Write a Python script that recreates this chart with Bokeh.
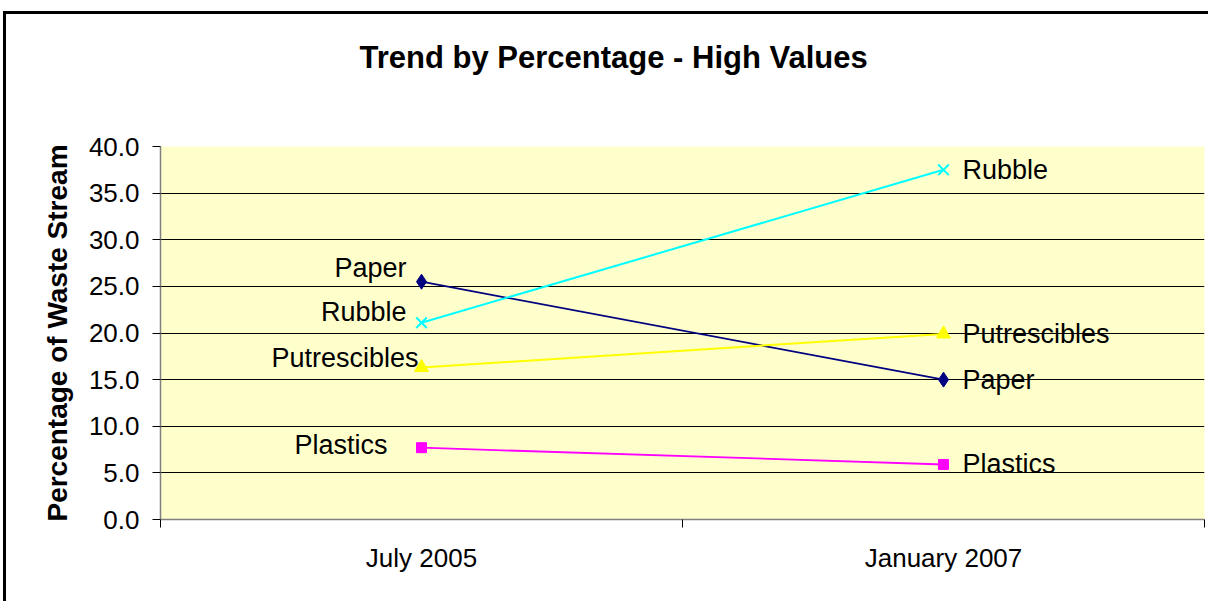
from bokeh.plotting import figure
from bokeh.models import FixedTicker, Range1d, NumeralTickFormatter, InlineStyleSheet
from bokeh.core.properties import value
from bokeh.embed import file_html
from bokeh.resources import INLINE

# ---- data ----
categories = ["July 2005", "January 2007"]
series_names = ["Paper", "Rubble", "Putrescibles", "Plastics"]
paper = [25.5, 15.0]
rubble = [21.1, 37.5]
putrescibles = [16.3, 19.9]
plastics = [7.7, 5.9]
y_ticks = [0, 5, 10, 15, 20, 25, 30, 35, 40]
title_text = "Trend by Percentage - High Values"
y_label = "Percentage of Waste Stream"

# ---- styles ----
colors = {"Paper": "#000080", "Rubble": "#00FFFF", "Putrescibles": "#FFFF00", "Plastics": "#FF00FF"}
markers = {"Paper": "diamond", "Rubble": "x", "Putrescibles": "triangle", "Plastics": "square"}
msizes = {"Paper": 15, "Rubble": 15, "Putrescibles": 14, "Plastics": 10}
lwidths = {"Paper": 1.8, "Rubble": 2, "Putrescibles": 2, "Plastics": 1.8}
left_offsets = {"Paper": (-15, -14), "Rubble": (-15, -11), "Putrescibles": (-3, -10), "Plastics": (-34, -3)}

FONT = "Liberation Sans"

p = figure(width=1208, height=601, output_backend="svg", toolbar_location=None,
           min_border_left=160, min_border_right=4, min_border_top=146, min_border_bottom=82)
p.x_range = Range1d(0, len(categories))
p.y_range = Range1d(0, 40)
p.background_fill_color = "#FFFFCC"
p.border_fill_color = "white"
p.outline_line_color = None

# title: a trailing empty line (with line height) lifts the text away from the frame
p.title.text = title_text + "\n"
p.title.text_line_height = 1.9
p.title.align = "left"
p.title.offset = 199
p.title.standoff = 10
p.title.text_font = FONT
p.title.text_font_style = "bold"
p.title.text_font_size = "31px"
p.title.text_color = "black"

# axes
p.yaxis.ticker = FixedTicker(ticks=y_ticks)
p.yaxis.formatter = NumeralTickFormatter(format="0.0")
p.yaxis.major_tick_out = 8
p.yaxis.major_tick_in = 0
p.yaxis.minor_tick_line_color = None
p.yaxis.axis_line_color = "#808080"
p.yaxis.axis_line_width = 1.5
p.yaxis.major_tick_line_color = "black"
p.yaxis.major_label_text_font = FONT
p.yaxis.major_label_text_font_size = "26px"
p.yaxis.major_label_text_color = "black"
p.yaxis.major_label_standoff = 13
p.yaxis.axis_label = y_label
p.yaxis.axis_label_text_font = FONT
p.yaxis.axis_label_text_font_style = "bold"
p.yaxis.axis_label_text_font_size = "28px"
p.yaxis.axis_label_text_color = "black"
p.yaxis.axis_label_standoff = 13

centers = [i + 0.5 for i in range(len(categories))]
bounds = [i for i in range(len(categories) + 1)]
p.xaxis.ticker = FixedTicker(ticks=centers, minor_ticks=bounds)
p.xaxis.major_label_overrides = {c: lab for c, lab in zip(centers, categories)}
p.xaxis.major_tick_line_color = None
p.xaxis.major_tick_out = 0
p.xaxis.major_tick_in = 0
p.xaxis.minor_tick_out = 8
p.xaxis.minor_tick_in = 0
p.xaxis.minor_tick_line_color = "black"
p.xaxis.axis_line_color = "#808080"
p.xaxis.axis_line_width = 1.5
p.xaxis.major_label_text_font = FONT
p.xaxis.major_label_text_font_size = "26px"
p.xaxis.major_label_text_color = "black"
p.xaxis.major_label_standoff = 15

p.xgrid.grid_line_color = None
p.ygrid.ticker = FixedTicker(ticks=y_ticks[1:])
p.ygrid.grid_line_color = "black"
p.ygrid.grid_line_width = 1

data = {"Paper": paper, "Rubble": rubble, "Putrescibles": putrescibles, "Plastics": plastics}
for name in series_names:
    vals = data[name]
    c = colors[name]
    p.line(centers, vals, line_color=c, line_width=lwidths[name])
    if markers[name] == "x":
        p.scatter(centers, vals, marker="x", size=msizes[name], line_color=c, line_width=2)
    else:
        p.scatter(centers, vals, marker=markers[name], size=msizes[name], fill_color=c, line_color=c)
    dx, dy = left_offsets[name]
    p.text([centers[0]], [vals[0]], text=[name], x_offset=dx, y_offset=dy,
           text_align="right", text_baseline="middle", text_font=value(FONT),
           text_font_size="27px", text_color="black")
    p.text([centers[1]], [vals[1]], text=[name], x_offset=19, y_offset=0,
           text_align="left", text_baseline="middle", text_font=value(FONT),
           text_font_size="27px", text_color="black")

# outer chart-area border (top and left edges visible in the picture)
frame_css = (":host::after { content: ''; position: absolute; left: 3px; top: 11px; "
             "width: 1205px; height: 590px; box-sizing: border-box; "
             "border-left: 3px solid black; border-top: 3px solid black; "
             "pointer-events: none; z-index: 10; }")
p.stylesheets = [InlineStyleSheet(css=frame_css)]

open("out.html", "w").write(file_html(p, INLINE))
